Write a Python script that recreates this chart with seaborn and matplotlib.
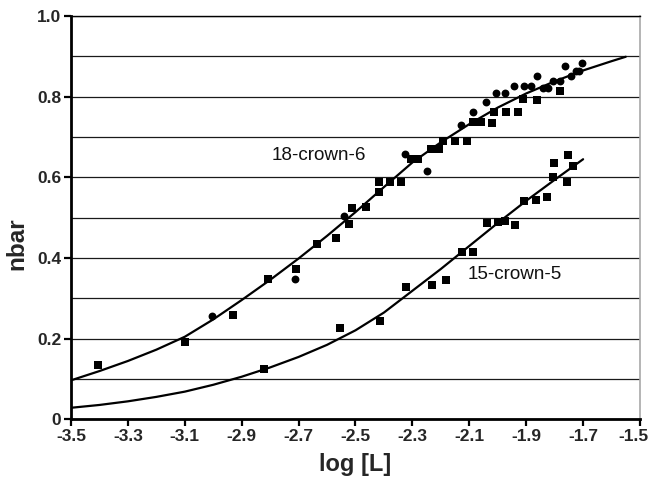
import matplotlib
matplotlib.use("Agg")
import matplotlib.pyplot as plt
import matplotlib.transforms as mtransforms
import numpy as np
import pandas as pd
import seaborn as sns

# 18-crown-6 measurements (squares and circles)
c6_sq_logl = [-3.404, -3.099, -2.929, -2.808, -2.710, -2.636, -2.569, -2.524, -2.512,
              -2.464, -2.416, -2.416, -2.379, -2.341, -2.306, -2.279, -2.236, -2.205,
              -2.191, -2.150, -2.109, -2.086, -2.059, -2.021, -2.012, -1.972, -1.928,
              -1.912, -1.863, -1.781]
c6_sq_nbar = [0.136, 0.191, 0.258, 0.349, 0.373, 0.435, 0.449, 0.485, 0.524,
              0.526, 0.565, 0.588, 0.588, 0.588, 0.645, 0.645, 0.670, 0.670,
              0.690, 0.690, 0.690, 0.738, 0.738, 0.736, 0.763, 0.763, 0.761,
              0.794, 0.792, 0.815]
c6_ci_logl = [-3.003, -2.713, -2.540, -2.326, -2.250, -2.130, -2.088, -2.042, -2.005,
              -1.975, -1.944, -1.908, -1.883, -1.863, -1.840, -1.822, -1.805, -1.781,
              -1.764, -1.744, -1.726, -1.714, -1.703]
c6_ci_nbar = [0.256, 0.349, 0.504, 0.658, 0.617, 0.731, 0.761, 0.788, 0.810,
              0.810, 0.826, 0.826, 0.827, 0.852, 0.822, 0.822, 0.840, 0.840,
              0.877, 0.852, 0.864, 0.864, 0.884]

# 15-crown-5 measurements
c5_logl = [-2.822, -2.554, -2.414, -2.324, -2.230, -2.183, -2.127, -2.086, -2.037,
           -1.998, -1.975, -1.939, -1.907, -1.866, -1.826, -1.805, -1.802, -1.758,
           -1.754, -1.734]
c5_nbar = [0.125, 0.226, 0.243, 0.328, 0.333, 0.345, 0.416, 0.414, 0.488,
           0.490, 0.492, 0.482, 0.542, 0.545, 0.552, 0.602, 0.635, 0.588,
           0.655, 0.628]

# fitted curves
fit6_logl = [-3.5, -3.4, -3.3, -3.2, -3.1, -3.0, -2.9, -2.8, -2.7, -2.6, -2.5,
             -2.4, -2.3, -2.2, -2.1, -2.0, -1.9, -1.8, -1.7, -1.6, -1.55]
fit6_nbar = [0.097, 0.120, 0.145, 0.173, 0.205, 0.248, 0.296, 0.346, 0.399, 0.455, 0.514,
             0.576, 0.637, 0.687, 0.732, 0.773, 0.808, 0.838, 0.865, 0.888, 0.899]
fit5_logl = [-3.5, -3.4, -3.3, -3.2, -3.1, -3.0, -2.9, -2.8, -2.7, -2.6, -2.5,
             -2.4, -2.3, -2.2, -2.1, -2.0, -1.9, -1.8, -1.7]
fit5_nbar = [0.029, 0.036, 0.045, 0.056, 0.069, 0.086, 0.106, 0.129, 0.155, 0.185, 0.221,
             0.265, 0.319, 0.373, 0.430, 0.487, 0.542, 0.594, 0.645]

xticks = [-3.5, -3.3, -3.1, -2.9, -2.7, -2.5, -2.3, -2.1, -1.9, -1.7, -1.5]
xticklabels = ["-3.5", "-3.3", "-3.1", "-2.9", "-2.7", "-2.5", "-2.3", "-2.1", "-1.9", "-1.7", "-1.5"]
yticks = [0, 0.2, 0.4, 0.6, 0.8, 1.0]
yticklabels = ["0", "0.2", "0.4", "0.6", "0.8", "1.0"]

sns.set_style("white")
plt.rcParams["font.family"] = ["Liberation Sans", "DejaVu Sans"]

fig = plt.figure(figsize=(6.53, 4.83), dpi=100)
ax = fig.add_axes([0.1087, 0.1315, 0.8714, 0.8354])

sns.lineplot(x=fit6_logl, y=fit6_nbar, ax=ax, color="black", lw=1.6, sort=False, estimator=None)
sns.lineplot(x=fit5_logl, y=fit5_nbar, ax=ax, color="black", lw=1.6, sort=False, estimator=None)
sns.scatterplot(x=c6_sq_logl, y=c6_sq_nbar, ax=ax, marker="s", s=28, color="black", linewidth=0)
sns.scatterplot(x=c6_ci_logl, y=c6_ci_nbar, ax=ax, marker="o", s=32, color="black", linewidth=0)
sns.scatterplot(x=c5_logl, y=c5_nbar, ax=ax, marker="s", s=28, color="black", linewidth=0)

ax.text(-2.628, 0.655, "18-crown-6", ha="center", va="center", fontsize=13.6, color="#111111")
ax.text(-1.939, 0.360, "15-crown-5", ha="center", va="center", fontsize=13.6, color="#111111")

ax.set_xlim(-3.5, -1.5)
ax.set_ylim(0, 1.0)
ax.set_xticks(xticks)
ax.set_xticklabels(xticklabels, fontweight="bold", fontsize=12.5)
ax.set_yticks(yticks)
ax.set_yticklabels(yticklabels, fontweight="bold", fontsize=12.5)
ax.set_yticks(np.arange(0.1, 1.0, 0.2), minor=True)
ax.yaxis.grid(True, which="both", color="#1a1a1a", lw=0.9)
ax.xaxis.grid(False)
ax.set_axisbelow(True)
ax.tick_params(axis="both", which="major", direction="out", length=5, width=1.6,
               color="black", pad=2, bottom=True, left=True)
ax.tick_params(axis="y", which="minor", length=0)

# last x label is pulled inward so it stays inside the figure
last = ax.get_xticklabels()[-1]
last.set_transform(last.get_transform() + mtransforms.ScaledTranslation(-0.07, 0, fig.dpi_scale_trans))

for side in ["left", "bottom"]:
    ax.spines[side].set_color("black")
    ax.spines[side].set_linewidth(2)
ax.spines["top"].set_color("black")
ax.spines["top"].set_linewidth(1)
ax.spines["right"].set_color("#a8a8a8")
ax.spines["right"].set_linewidth(1.2)

ax.set_xlabel("log [L]", fontsize=17, fontweight="bold")
ax.set_ylabel("nbar", fontsize=17.5, fontweight="bold")
ax.xaxis.set_label_coords(0.5, -0.082)
ax.yaxis.set_label_coords(-0.074, 0.435)

fig.savefig("out.png", dpi=100)
